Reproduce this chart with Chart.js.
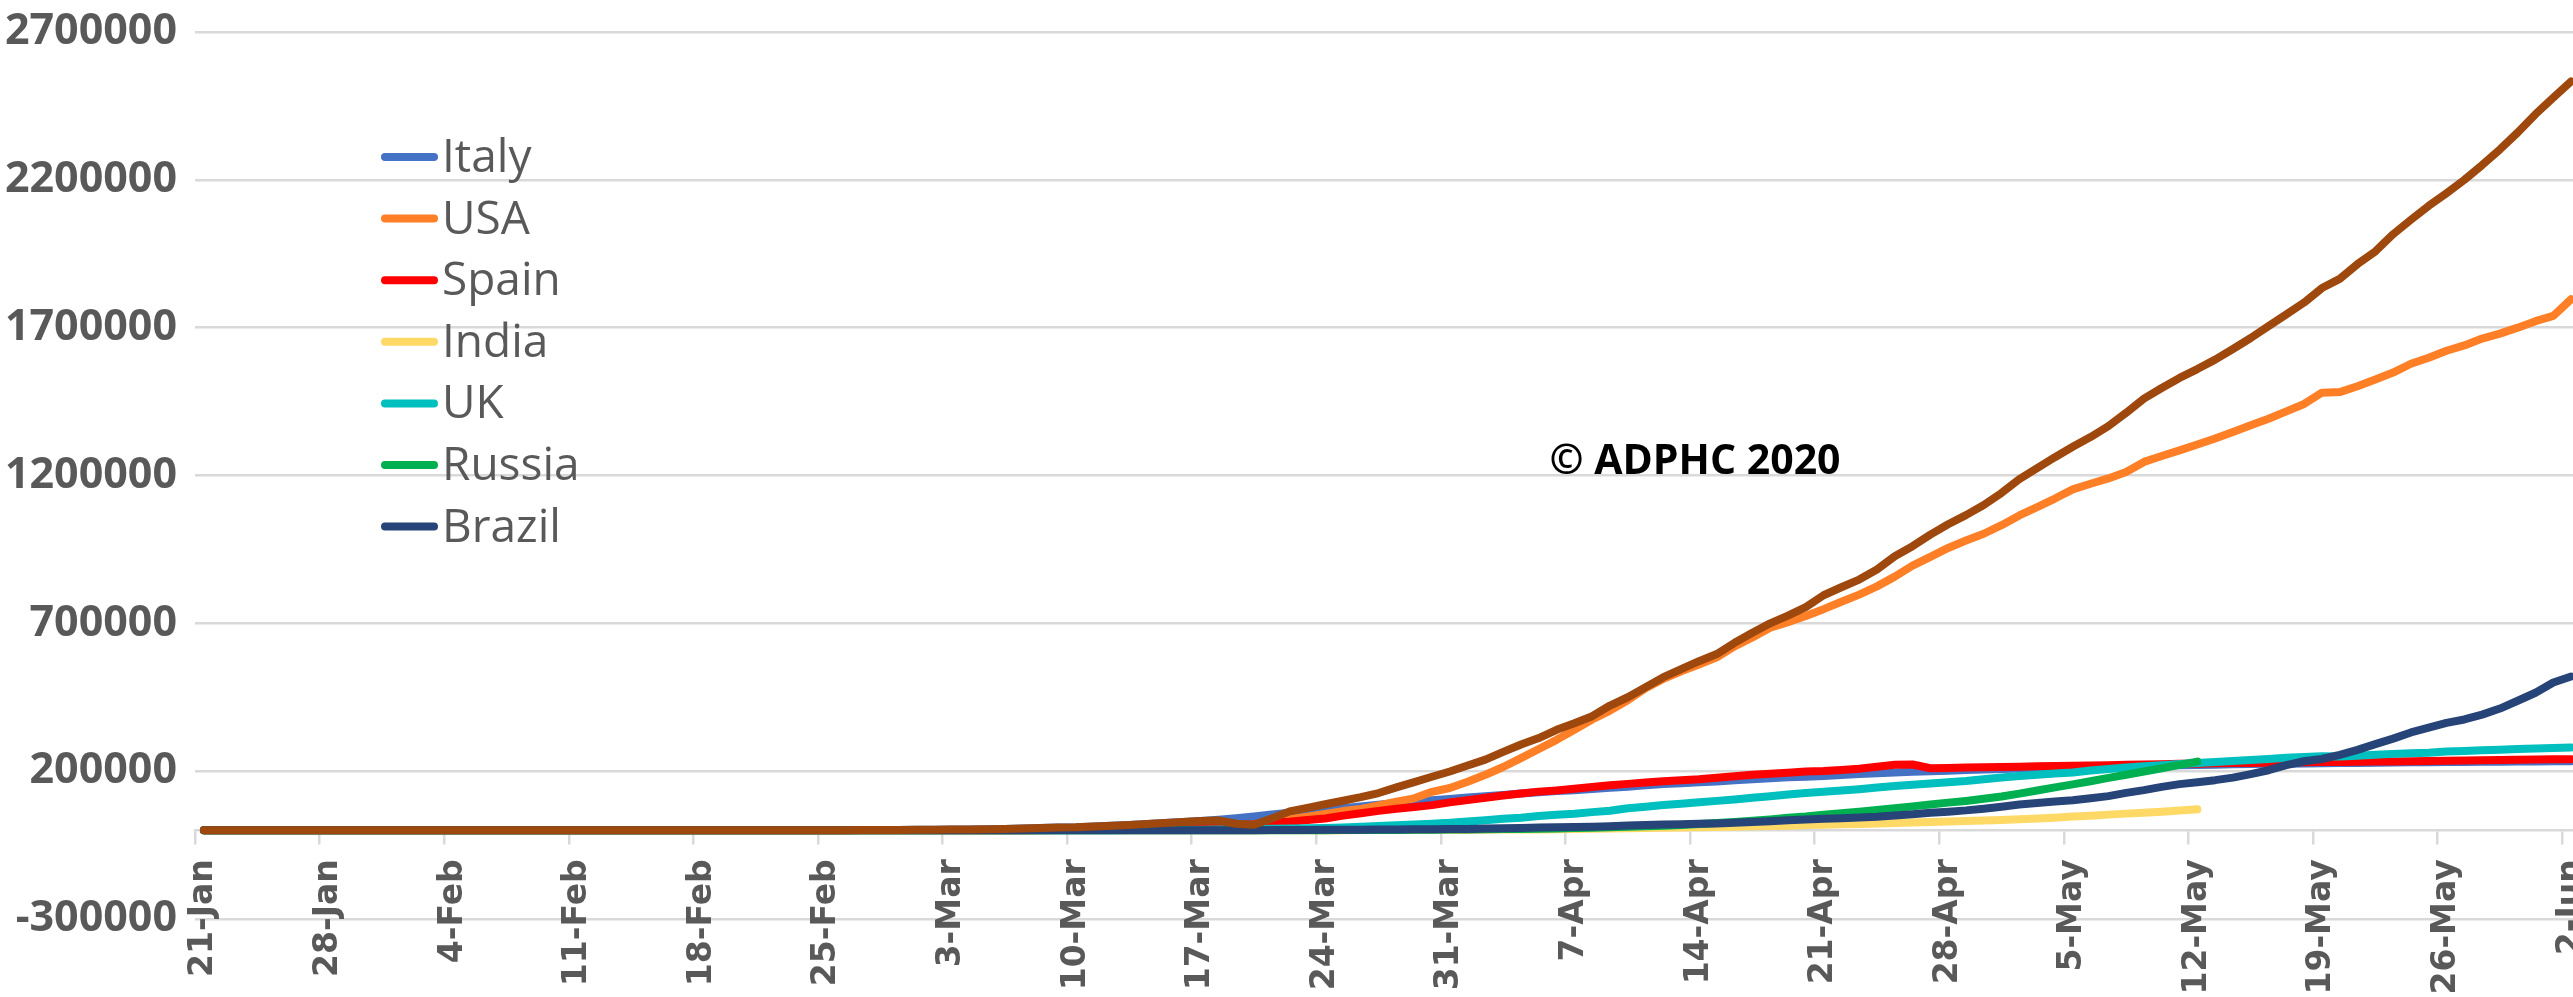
<!DOCTYPE html>
<html>
<head>
<meta charset="utf-8">
<title>Cumulative cases</title>
<script src="https://cdn.jsdelivr.net/npm/chart.js@4.4.1/dist/chart.umd.min.js"></script>
<style>
  html, body { margin: 0; padding: 0; background: #fff; overflow: hidden; }
  #wrap { position: relative; width: 2590px; height: 997px; }
</style>
</head>
<body>
<div id="wrap"><canvas id="cases"></canvas></div>
<script>
const monthNames = ['Jan', 'Feb', 'Mar', 'Apr', 'May', 'Jun']

// one category per day, 21-Jan .. 2-Jun
const days = []
for (let d = new Date(2020, 0, 21); d <= new Date(2020, 5, 2); d.setDate(d.getDate() + 1)) {
    days.push(d.getDate() + '-' + monthNames[d.getMonth()])
}

const countries = ['Italy', 'USA', 'Spain', 'India', 'UK', 'Russia', 'Brazil']
const colors = ['#4472C4', '#FF7F27', '#FF0000', '#FFD966', '#00BFBF', '#00B050', '#264478', '#9E480E']

const italy = [0,0,0,0,0,0,0,0,0,0,
    2,2,2,2,2,2,2,3,3,3,
    3,3,3,3,3,3,3,3,3,3,
    3,20,62,155,229,322,453,655,888,1128,
    1694,2036,2502,3089,3858,4636,5883,7375,9172,10100,
    12500,15100,17700,21200,24700,28000,31500,35700,41000,47000,
    53600,59100,63900,69200,74400,80600,86500,92500,97700,101700,
    105800,110600,115200,119800,124600,128900,132500,135600,139400,143600,
    147600,152300,156400,159500,162500,165200,168900,172400,175900,179000,
    181200,184000,187300,190000,193000,195400,197700,199400,201500,203600,
    205500,207400,209300,210700,211900,213000,214500,215900,217200,218300,
    219100,219800,221200,222100,223100,223900,224800,225400,225900,226700,
    227400,228000,228700,229300,229900,230200,230600,231100,231700,232200,
    232700,233000,233200,233500]

const usa = [1,1,1,2,2,5,5,5,5,6,
    7,8,8,11,11,11,12,12,12,12,
    12,13,13,14,14,14,14,14,14,15,
    15,15,35,35,53,53,59,60,62,68,
    75,100,120,160,220,320,430,540,600,960,
    1300,1700,2200,2700,3500,4600,6400,7800,13700,19100,
    25500,38000,46000,55000,65000,72000,84000,97000,108000,130000,
    143000,164000,188000,214000,244000,275000,306000,340000,375000,405000,
    440000,481000,512000,538000,561000,585000,622000,652000,685000,704000,
    725000,748000,773000,797000,825000,858000,895000,925000,955000,980000,
    1003000,1032000,1065000,1093000,1122000,1153000,1172000,1190000,1212000,1246000,
    1266000,1285000,1305000,1325000,1347000,1370000,1392000,1417000,1442000,1480000,
    1482000,1502000,1525000,1548000,1578000,1598000,1622000,1640000,1663000,1680000,
    1700000,1722000,1740000,1796000]

const spain = [0,0,0,0,0,0,0,0,0,0,
    0,1,1,1,1,1,1,1,1,2,
    2,2,2,2,2,2,2,2,2,2,
    2,2,2,2,2,6,13,15,32,45,
    84,120,165,222,259,400,500,673,1073,1695,
    2277,2277,5232,6391,7798,9942,11700,13900,18000,20400,
    25400,28800,35100,39900,49500,57800,65700,73200,78800,85200,
    94400,102100,110200,117700,124700,130800,135000,140500,146700,152400,
    157000,161900,166000,169500,172500,177600,182800,188100,191000,194400,
    198700,200200,204200,208400,215000,222000,222500,210000,210800,212000,
    213400,214000,215200,216500,217500,218500,219300,220300,221400,222200,
    223600,224800,225500,226600,227400,228000,228700,229500,230200,230700,
    231400,232000,232600,233000,233700,234800,235400,236300,237000,237900,
    238600,239200,239900,240700]

// series stops at 12-May
const india = [0,0,0,0,0,0,0,0,0,0,
    1,1,1,2,3,3,3,3,3,3,
    3,3,3,3,3,3,3,3,3,3,
    3,3,3,3,3,3,3,3,3,3,
    3,3,5,5,28,30,31,34,39,43,
    56,62,73,82,102,113,119,142,156,194,
    244,330,396,499,536,657,727,887,987,1024,
    1251,1397,1998,2543,2567,3082,3588,4778,5311,5916,
    6725,7598,8446,9205,10500,11500,12300,13400,14400,15700,
    17600,18500,20100,21400,23100,24500,26300,27900,29500,31300,
    33100,34900,37300,39700,42500,46400,49400,53000,56400,59700,
    62800,67200,70800]

const uk = [0,0,0,0,0,0,0,0,0,0,
    2,2,2,2,2,2,3,3,3,3,
    8,8,9,9,9,9,9,9,9,9,
    9,9,9,9,13,13,13,15,20,23,
    36,40,51,86,116,164,207,274,322,384,
    459,459,802,1144,1145,1551,1960,2642,2716,4014,
    5067,5745,6726,8164,9640,11800,14700,17300,19800,22500,
    25500,29900,34200,38700,42500,48400,52300,55900,61500,65900,
    74600,79900,85200,89600,94800,99500,104100,109800,115300,121200,
    125900,130200,134600,139200,144600,149600,154000,158300,162400,166400,
    172500,178700,183500,187800,191800,195500,202000,207000,212600,216500,
    220400,224300,227700,231000,234400,238000,241500,245000,247700,250100,
    249600,252200,255500,258500,260900,262500,266600,268600,270500,272800,
    274800,276300,278000,279900]

// series stops at 12-May
const russia = [0,0,0,0,0,0,0,0,0,0,
    2,2,2,2,2,2,2,2,2,2,
    2,2,2,2,2,2,2,2,2,2,
    2,2,2,2,2,2,2,2,2,2,
    2,3,3,3,3,4,13,13,17,17,
    20,28,45,59,63,90,114,147,199,253,
    306,367,438,495,658,840,1036,1264,1534,1836,
    2337,2777,3548,4149,4731,5389,6343,7497,8672,10100,
    11900,13600,15800,18300,21100,24500,27900,32000,36800,42900,
    47100,52800,58000,62800,68600,74600,80900,87100,93600,99400,
    106500,114400,124100,134700,145300,155400,165900,177200,187900,198700,
    209700,221300,232200]

const brazil = [0,0,0,0,0,0,0,0,0,0,
    0,0,0,0,0,0,0,0,0,0,
    0,0,0,0,0,0,0,0,0,0,
    0,0,0,0,0,0,0,0,1,1,
    1,2,2,2,2,4,4,13,13,20,
    25,31,38,52,151,151,162,200,321,372,
    621,793,1021,1546,1924,2247,2554,2985,3417,3904,
    4256,4579,5717,6836,8044,9056,10400,11100,12200,14000,
    16200,18100,19600,20700,22200,23400,25300,28300,30400,33700,
    36700,38700,40700,43100,45800,50000,54000,59300,63100,67400,
    73200,79700,87200,92200,97100,101800,108600,115500,126600,135800,
    146900,156100,162700,169600,178200,190100,203200,220300,233500,241100,
    255400,271900,291600,310100,330900,347400,363200,374900,391200,411800,
    438200,465200,500000,520000]

// unlabelled eighth series drawn on top
const other = [0,0,0,0,0,0,0,0,0,0,
    2,2,2,2,2,2,2,3,3,3,
    3,3,3,3,3,3,3,3,3,3,
    3,20,62,155,229,322,453,655,888,1128,
    1694,2036,2502,3089,3858,4636,5883,7375,9172,10100,
    12500,15100,17700,21200,24700,28000,31500,33000,22000,19000,
    40000,64000,76000,88000,100000,112000,126000,145000,163000,181000,
    199000,219000,239000,265000,290000,312000,340000,362000,386000,422000,
    450000,484000,518000,545000,572000,596000,634000,668000,700000,726000,
    755000,795000,822000,848000,882000,927000,961000,1000000,1035000,1066000,
    1100000,1141000,1188000,1225000,1262000,1297000,1330000,1367000,1412000,1460000,
    1496000,1530000,1560000,1592000,1628000,1665000,1705000,1745000,1785000,1834000,
    1865000,1915000,1958000,2016000,2065000,2112000,2155000,2200000,2250000,2303000,
    2360000,2422000,2478000,2533000]

const series = [italy, usa, spain, india, uk, russia, brazil, other]
const names = countries.concat(['Other'])

// first series at the bottom, the unlabelled one on top
const datasets = series.map((values, i) => ({
    label: names[i],
    data: values,
    borderColor: colors[i],
    backgroundColor: colors[i],
    order: series.length - 1 - i
}))

// legend column and copyright line
const overlay = {
    id: 'overlay',
    afterDraw(chart) {
        const ctx = chart.ctx
        ctx.save()
        ctx.lineCap = 'round'
        ctx.lineWidth = 8
        ctx.font = '46px "Open Sans"'
        ctx.fillStyle = '#595959'
        ctx.textBaseline = 'alphabetic'
        countries.forEach((name, i) => {
            const y = 157 + i * 61.6
            ctx.strokeStyle = colors[i]
            ctx.beginPath()
            ctx.moveTo(385, y)
            ctx.lineTo(434, y)
            ctx.stroke()
            ctx.fillText(name, 442, y + 15)
        })
        ctx.font = 'bold 41px "Open Sans"'
        ctx.fillStyle = '#000000'
        ctx.textAlign = 'center'
        ctx.fillText('\u00A9 ADPHC 2020', 1695, 474)
        ctx.restore()
    }
}

const chart = new Chart(document.getElementById('cases'), {
    type: 'line',
    data: { labels: days, datasets: datasets },
    options: {
        responsive: true,
        maintainAspectRatio: false,
        animation: false,
        layout: { padding: { top: 32, right: 10, bottom: 78, left: 0 } },
        plugins: {
            legend: { display: false },
            tooltip: { enabled: false }
        },
        elements: {
            point: { radius: 0 },
            line: { tension: 0, borderWidth: 8, borderCapStyle: 'round', borderJoinStyle: 'round' }
        },
        scales: {
            x: {
                position: { y: 0 },
                offset: true,
                grid: {
                    offset: true,
                    drawOnChartArea: false,
                    tickLength: 13,
                    lineWidth: 2.5,
                    color: (c) => (c.index % 7 === 0 ? '#D9D9D9' : 'rgba(0,0,0,0)')
                },
                border: { color: '#D9D9D9', width: 2.5 },
                ticks: {
                    autoSkip: false,
                    minRotation: 90,
                    maxRotation: 90,
                    padding: 16,
                    color: '#595959',
                    font: { family: 'DejaVu Sans', weight: 'bold', size: 33 },
                    callback: (v, i) => (i % 7 === 0 ? days[i] : '')
                },
                // labels hang below the zero line, so the axis takes no layout room
                afterFit: (scale) => {
                    scale.height = 0
                    scale.paddingLeft = 0
                    scale.paddingRight = 0
                }
            },
            y: {
                min: -300000,
                max: 2700000,
                ticks: {
                    stepSize: 500000,
                    padding: 18,
                    color: '#595959',
                    font: { family: 'Open Sans', weight: 'bold', size: 43 },
                    callback: (v) => String(v)
                },
                grid: { color: '#D9D9D9', lineWidth: 2.5, drawTicks: false },
                border: { display: false },
                afterFit: (scale) => {
                    scale.width = 195
                    scale.paddingTop = 0
                    scale.paddingBottom = 0
                }
            }
        }
    },
    plugins: [overlay]
})
</script>
</body>
</html>
